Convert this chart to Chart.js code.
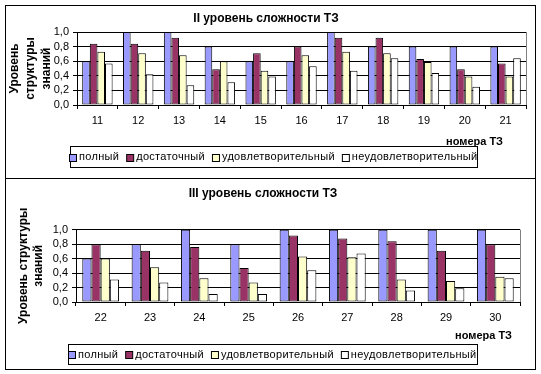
<!DOCTYPE html>
<html><head><meta charset="utf-8">
<script src="https://cdn.jsdelivr.net/npm/chart.js@4/dist/chart.umd.min.js"></script>
<style>
html,body{margin:0;padding:0;background:#fff;width:541px;height:374px;overflow:hidden;}
.box{position:absolute;box-sizing:border-box;border:1px solid #000;background:#fff;}
#b1{left:5px;top:5px;width:531px;height:174px;}
#b2{left:5px;top:178px;width:531px;height:192px;}
canvas{position:absolute;left:0;top:0;}
</style></head><body>
<div class="box" id="b1"><canvas id="c1" width="529" height="172" style="width:529px;height:172px"></canvas></div>
<div class="box" id="b2"><canvas id="c2" width="529" height="190" style="width:529px;height:190px"></canvas></div>
<script>
// ---- data ----
const seriesNames = ['полный', 'достаточный', 'удовлетворительный', 'неудовлетворительный'];
const seriesColors = ['#9999FF', '#993366', '#FFFFCC', '#FFFFFF'];

const titleII = 'II уровень сложности ТЗ';
const categoriesII = ['11','12','13','14','15','16','17','18','19','20','21'];
const polnyII = [0.6, 1.0, 1.0, 0.8, 0.6, 0.6, 1.0, 0.8, 0.8, 0.8, 0.8];
const dostII  = [0.84, 0.84, 0.92, 0.49, 0.71, 0.8, 0.92, 0.92, 0.63, 0.49, 0.57];
const udovII  = [0.73, 0.71, 0.68, 0.6, 0.47, 0.68, 0.73, 0.71, 0.59, 0.39, 0.39];
const neudII  = [0.57, 0.42, 0.27, 0.31, 0.39, 0.53, 0.47, 0.64, 0.44, 0.25, 0.64];

const titleIII = 'III уровень сложности ТЗ';
const categoriesIII = ['22','23','24','25','26','27','28','29','30'];
const polnyIII = [0.6, 0.8, 1.0, 0.8, 1.0, 1.0, 1.0, 1.0, 1.0];
const dostIII  = [0.8, 0.71, 0.76, 0.47, 0.92, 0.88, 0.84, 0.71, 0.8];
const udovIII  = [0.6, 0.48, 0.33, 0.27, 0.63, 0.62, 0.31, 0.29, 0.35];
const neudIII  = [0.31, 0.27, 0.11, 0.11, 0.44, 0.67, 0.16, 0.19, 0.33];

const yTitleII = ['Уровень', 'структуры', 'знаний'];
const yTitleIII = ['Уровень структуры', 'знаний'];
const xTitle = 'номера ТЗ';
const yTicks = [0, 0.2, 0.4, 0.6, 0.8, 1.0];

// ---- rendering ----
const FONT = 'Arial, "Liberation Sans", sans-serif';

const decor = {
  id: 'decor',
  afterDatasetsDraw(chart) {
    const {ctx, chartArea: a} = chart;
    ctx.save();
    ctx.strokeStyle = '#808080'; ctx.lineWidth = 1;
    ctx.beginPath();
    ctx.moveTo(Math.round(a.right) + 0.5, a.top);
    ctx.lineTo(Math.round(a.right) + 0.5, a.bottom);
    ctx.stroke();
    ctx.restore();
  },
  afterDraw(chart, args, o) {
    const ctx = chart.ctx;
    ctx.save();
    ctx.fillStyle = '#000';
    ctx.font = 'bold 11px ' + FONT;
    ctx.textAlign = 'right'; ctx.textBaseline = 'middle';
    ctx.fillText(o.xTitle, o.xTitleX, o.xTitleY);
    // legend
    ctx.font = '11px ' + FONT;
    if ('letterSpacing' in ctx) ctx.letterSpacing = '0.3px';
    const ds = chart.data.datasets;
    const sq = 7, tg = 3, gap = o.gap;
    const widths = ds.map(d => sq + tg + ctx.measureText(d.label).width);
    const total = widths.reduce((s, w) => s + w, 0) + gap * (ds.length - 1);
    const b = o.box;
    ctx.strokeStyle = '#000'; ctx.lineWidth = 1;
    ctx.strokeRect(b.x + 0.5, b.y + 0.5, b.w, b.h);
    let x = Math.round(b.x + (b.w - total) / 2);
    const cy = b.y + b.h / 2 + 0.5;
    ds.forEach((d, i) => {
      const sy = Math.round(cy - sq / 2);
      ctx.fillStyle = d.backgroundColor;
      ctx.fillRect(x + 0.5, sy + 0.5, sq, sq);
      ctx.strokeRect(x + 0.5, sy + 0.5, sq, sq);
      ctx.fillStyle = '#000';
      ctx.textAlign = 'left'; ctx.textBaseline = 'middle';
      ctx.fillText(d.label, x + sq + tg, cy);
      x += widths[i] + gap;
    });
    ctx.restore();
  }
};

function build(id, cfg) {
  const values = [cfg.p, cfg.d, cfg.u, cfg.n];
  new Chart(document.getElementById(id), {
    type: 'bar',
    data: {
      labels: cfg.labels,
      datasets: values.map((v, i) => ({
        label: seriesNames[i], data: v,
        backgroundColor: seriesColors[i], borderColor: '#000', borderWidth: 1,
        borderSkipped: false, categoryPercentage: 0.745, barPercentage: 1, clip: 2
      }))
    },
    options: {
      responsive: false, animation: false, devicePixelRatio: 1,
      layout: {padding: {left: 0, top: 0, right: cfg.padRight, bottom: cfg.padBottom}},
      plugins: {
        legend: {display: false},
        tooltip: {enabled: false},
        title: {display: true, text: cfg.title, color: '#000',
          font: {family: FONT, size: 12, weight: 'bold', lineHeight: 1.2},
          padding: cfg.titlePad},
        decor: {xTitle: xTitle, xTitleX: cfg.xtX, xTitleY: cfg.xtY, box: cfg.legendBox, gap: 7}
      },
      scales: {
        x: {
          offset: true,
          grid: {display: true, offset: true, drawOnChartArea: false, drawTicks: true, tickLength: 4, color: '#000'},
          border: {display: true, color: '#000', width: 1},
          ticks: {color: '#000', font: {family: FONT, size: 11}, padding: 5, maxRotation: 0, autoSkip: false},
          afterFit: s => { s.height = 22; }
        },
        y: {
          min: 0, max: 1,
          afterBuildTicks: s => { s.ticks = yTicks.map(v => ({value: v})); },
          grid: {color: '#000', lineWidth: 1, tickLength: 4, drawTicks: true},
          border: {display: true, color: '#000', width: 1},
          ticks: {color: '#000', font: {family: FONT, size: 11}, padding: 4, autoSkip: false,
            callback: v => Number(v).toFixed(1).replace('.', ',')},
          title: {display: true, text: cfg.yTitle, color: '#000',
            font: {family: FONT, size: 12, weight: 'bold', lineHeight: cfg.yLH},
            padding: {top: cfg.yPad, bottom: 0}},
          afterFit: s => { s.width = cfg.yWidth; }
        }
      }
    },
    plugins: [decor]
  });
}

build('c1', {
  labels: categoriesII, p: polnyII, d: dostII, u: udovII, n: neudII,
  title: titleII, titlePad: {top: 5, bottom: 6.6},
  padRight: 9, padBottom: 51, yWidth: 71,
  yTitle: yTitleII, yLH: '16px', yPad: 1,
  xtX: 497, xtY: 136,
  legendBox: {x: 64, y: 140, w: 407, h: 21}
});

build('c2', {
  labels: categoriesIII, p: polnyIII, d: dostIII, u: udovIII, n: neudIII,
  title: titleIII, titlePad: {top: 7, bottom: 29.3},
  padRight: 15, padBottom: 45, yWidth: 70,
  yTitle: yTitleIII, yLH: '15px', yPad: 10.5,
  xtX: 506, xtY: 157,
  legendBox: {x: 62, y: 165, w: 409, h: 20}
});
</script>
</body></html>
